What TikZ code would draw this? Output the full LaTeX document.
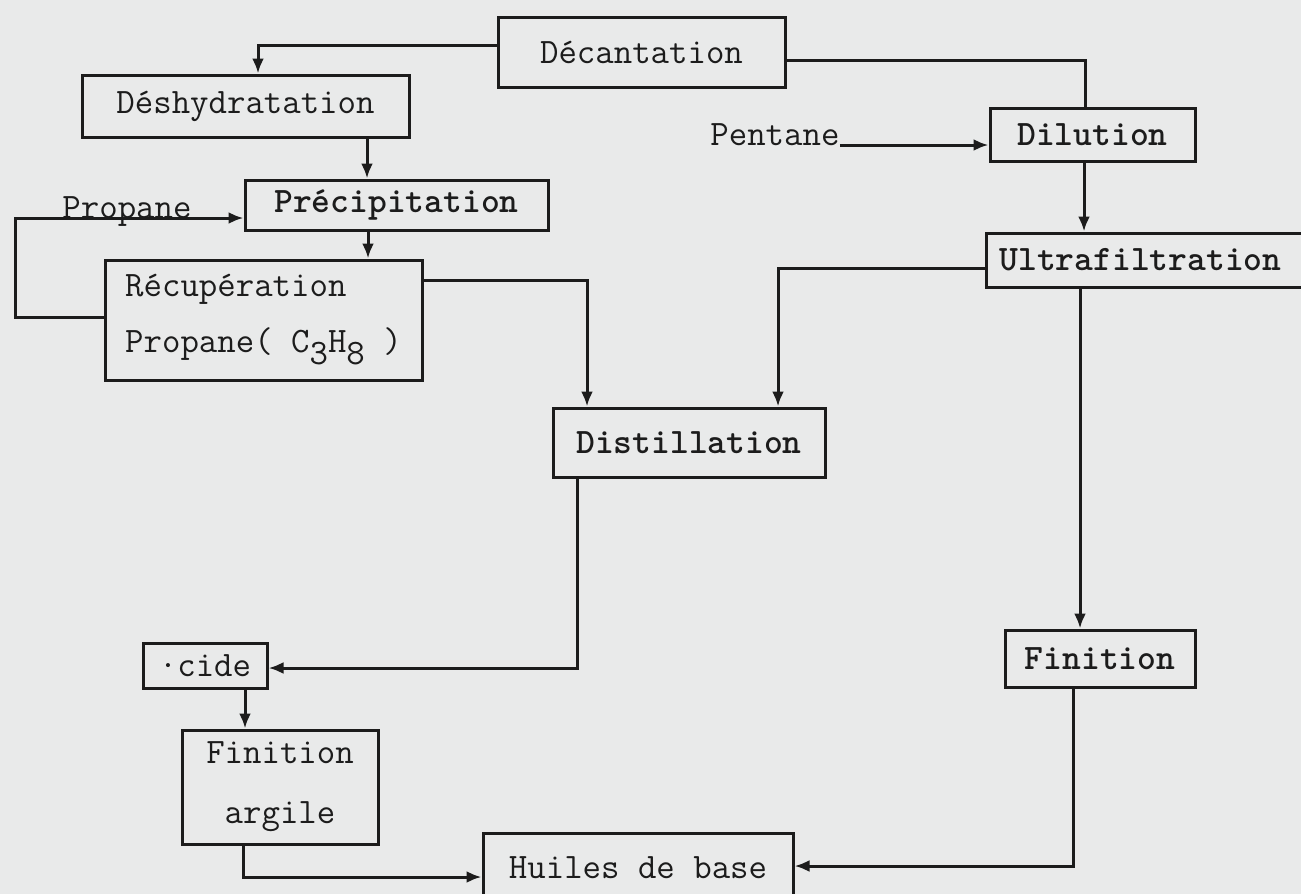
\documentclass[tikz,border=0pt]{standalone}
\usetikzlibrary{arrows.meta}
\definecolor{paper}{RGB}{233,234,234}
\definecolor{ink}{RGB}{28,28,28}
\newcommand{\tw}{\ttfamily\fontsize{17.9}{20}\selectfont}
\begin{document}
\begin{tikzpicture}[x=0.5pt,y=-0.5pt,
  box/.style={draw=ink, line width=1.5pt, inner sep=0pt, font=\tw, text=ink},
  lbl/.style={inner sep=0pt, font=\tw, text=ink},
  arr/.style={draw=ink, line width=1.5pt, -{Latex[length=7.5pt,width=6pt]}},
  ln/.style={draw=ink, line width=1.5pt}]
\fill[paper] (0,0) rectangle (1301,894);
\useasboundingbox (0,0) rectangle (1301,894);
\clip (0,0) rectangle (1301,894);

% boxes
\node[box, minimum width=143.5pt, minimum height=35pt] (dec) at (641.5,52) {Décantation};
\node[box, minimum width=163.5pt, minimum height=31pt] (desh) at (245.5,106) {Déshydratation};
\node[box, minimum width=151.5pt, minimum height=25pt] (prec) at (396.5,205) {\bfseries Précipitation};
\node[box, minimum width=158.5pt, minimum height=60pt, align=left] (recup) at (263.5,320)
  {Récupération\\[8pt]Propane( C\raisebox{-6pt}{3}H\raisebox{-6pt}{8} )};
\node[box, minimum width=102.5pt, minimum height=26.5pt] (dil) at (1092.5,134.5) {\bfseries Dilution};
\node[box, anchor=west, minimum height=27pt, inner xsep=6.5pt, text width=147.5pt, align=left] (ultra) at (985,260) {\bfseries Ultrafiltration};
\node[box, minimum width=136pt, minimum height=34.5pt] (dist) at (689,442.5) {\bfseries Distillation};
\node[box, minimum width=95pt, minimum height=28.5pt] (fin) at (1100,658.5) {\bfseries Finition};
\node[box, minimum width=62pt, minimum height=22.5pt] (acide) at (205,665.5) {·cide};
\node[box, minimum width=98pt, minimum height=57pt, align=center] (finarg) at (280,787) {Finition\\[10pt]argile};
\node[box, minimum width=155pt, minimum height=35pt] (huiles) at (638,868) {Huiles de base};

% labels
\node[lbl, anchor=base] (prop) at (127,218) {Propane};
\node[lbl, anchor=base west] (pent) at (710,145) {Pentane};

% connectors
\coordinate (k1) at (258,45);
\draw[arr] (dec.west |- k1) -- (k1) -- (k1 |- desh.north);
\coordinate (k2) at (1085,60);
\draw[ln] (dec.east |- k2) -- (k2) -- (k2 |- dil.north);
\coordinate (k3) at (367,0);
\draw[arr] (k3 |- desh.south) -- (k3 |- prec.north);
\coordinate (k4) at (368,0);
\draw[arr] (k4 |- prec.south) -- (k4 |- recup.north);
\coordinate (k5) at (15,317);
\draw[arr] (recup.west |- k5) -- (k5) -- (k5 |- prop.base) -- (prop.base -| prec.west);
\coordinate (k6) at (587,280);
\draw[arr] (recup.east |- k6) -- (k6) -- (k6 |- dist.north);
\draw[arr] (pent.base east) -- (pent.base east -| dil.west);
\coordinate (k7) at (1084,0);
\draw[arr] (k7 |- dil.south) -- (k7 |- ultra.north);
\coordinate (k8) at (778,268);
\draw[arr] (ultra.west |- k8) -- (k8) -- (k8 |- dist.north);
\coordinate (k9) at (1080,0);
\draw[arr] (k9 |- ultra.south) -- (k9 |- fin.north);
\coordinate (k10) at (577,668);
\draw[arr] (k10 |- dist.south) -- (k10) -- (acide.east |- k10);
\coordinate (k11) at (245,0);
\draw[arr] (k11 |- acide.south) -- (k11 |- finarg.north);
\coordinate (k12) at (243,877);
\draw[arr] (k12 |- finarg.south) -- (k12) -- (huiles.west |- k12);
\coordinate (k13) at (1073,866);
\draw[arr] (k13 |- fin.south) -- (k13) -- (huiles.east |- k13);
\end{tikzpicture}
\end{document}
